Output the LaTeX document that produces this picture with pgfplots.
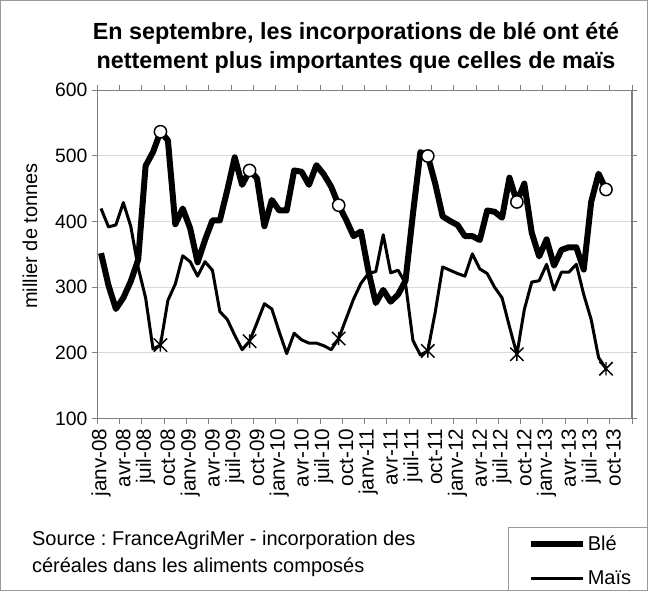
\documentclass[border=0pt]{standalone}
\usepackage{fontspec}
\setmainfont{Liberation Sans}
\usepackage{pgfplots}
\usepackage{pgfplotstable}
\pgfplotsset{compat=1.18}
\frenchspacing

\pgfdeclareplotmark{xstar}{%
  \pgfpathmoveto{\pgfqpoint{-\pgfplotmarksize}{-\pgfplotmarksize}}%
  \pgfpathlineto{\pgfqpoint{\pgfplotmarksize}{\pgfplotmarksize}}%
  \pgfpathmoveto{\pgfqpoint{-\pgfplotmarksize}{\pgfplotmarksize}}%
  \pgfpathlineto{\pgfqpoint{\pgfplotmarksize}{-\pgfplotmarksize}}%
  \pgfpathmoveto{\pgfqpoint{0pt}{-\pgfplotmarksize}}%
  \pgfpathlineto{\pgfqpoint{0pt}{\pgfplotmarksize}}%
  \pgfusepathqstroke}

\pgfplotstableread{
i ble mais
0 352 420
1 303 392
2 267 395
3 284 429
4 309 393
5 342 330
6 485 284
7 506 206
8 537 212
9 524 280
10 396 305
11 420 348
12 390 339
13 338 317
14 372 339
15 402 326
16 402 263
17 448 251
18 498 227
19 456 205
20 478 218
21 466 246
22 393 275
23 433 267
24 417 232
25 417 199
26 478 230
27 476 220
28 456 215
29 486 215
30 472 211
31 453 205
32 425 222
33 403 252
34 378 282
35 385 306
36 325 321
37 276 324
38 296 380
39 278 322
40 289 326
41 310 306
42 412 219
43 506 197
44 500 203
45 458 262
46 408 331
47 401 326
48 395 321
49 378 317
50 378 351
51 372 328
52 417 321
53 415 300
54 406 284
55 467 240
56 430 198
57 458 266
58 383 308
59 347 310
60 373 335
61 333 296
62 357 323
63 361 323
64 361 335
65 327 289
66 430 251
67 473 193
68 449 176
}\datatable

\begin{document}
\begin{tikzpicture}
\clip (0,0) rectangle (486pt,-443.25pt);
\fill[white] (0,0) rectangle (486pt,-443.25pt);
\begin{axis}[
  at={(73pt,-313.95pt)}, anchor=south west,
  scale only axis, width=401pt, height=246.2pt,
  xmin=-0.5, xmax=71.5, ymin=100, ymax=600,
  ytick={100,200,...,600},
  xtick={0,3,...,69},
  xticklabels={janv-08,avr-08,juil-08,oct-08,janv-09,avr-09,juil-09,oct-09,janv-10,avr-10,juil-10,oct-10,janv-11,avr-11,juil-11,oct-11,janv-12,avr-12,juil-12,oct-12,janv-13,avr-13,juil-13,oct-13},
  minor xtick={-0.5,2.5,...,71.5},
  major x tick style={draw=none},
  minor x tick style={black!50, line width=0.75pt},
  major y tick style={black!50, line width=0.75pt},
  tick align=outside,
  major tick length=4pt, minor tick length=4pt,
  ymajorgrids,
  major grid style={black!15, line width=0.75pt},
  axis line style={black!50, line width=1.1pt},
  /pgf/number format/assume math mode=true,
  tick label style={font=\fontsize{14.5}{15}\selectfont},
  xticklabel style={rotate=90, anchor=east, font=\fontsize{15.5}{16}\selectfont},
  clip=false,
  legend style={at={(0.768,-0.330)}, anchor=north west, draw=black!40, line width=0.75pt, fill=white,
    font=\fontsize{15}{18}\selectfont, inner xsep=15pt, inner ysep=5pt, row sep=12pt,
    nodes={inner sep=1pt}, cells={anchor=west}},
  legend image code/.code={\draw[#1, mark=none] plot coordinates {(0pt,0pt) (39pt,0pt)};},
]
\addplot[black, line width=4.5pt, line join=round, mark=*, mark repeat=12, mark phase=9,
  mark options={fill=white, draw=black, line width=1.1pt, mark size=4.6pt}] table[x=i, y=ble] {\datatable};
\addlegendentry{Blé}
\addplot[black, line width=2.25pt, line join=round, mark=xstar, mark repeat=12, mark phase=9,
  mark options={line width=1.1pt, mark size=5pt}] table[x=i, y=mais] {\datatable};
\addlegendentry{Maïs}
\end{axis}
\node[align=center, font=\bfseries\fontsize{17.5}{21.75}\selectfont] at (267pt,-35.6pt)
  {En septembre, les incorporations de blé ont été\\nettement plus importantes que celles de maïs};
\node[rotate=90, font=\fontsize{15}{18}\selectfont] at (22.5pt,-177pt) {millier de tonnes};
\node[align=left, anchor=west, font=\fontsize{15}{20.25}\selectfont] at (20.5pt,-415pt)
  {Source : FranceAgriMer - incorporation des\\céréales dans les aliments composés};
\draw[black!40, line width=0.75pt] (0.4pt,-0.4pt) rectangle (485.6pt,-442.85pt);
\end{tikzpicture}
\end{document}
